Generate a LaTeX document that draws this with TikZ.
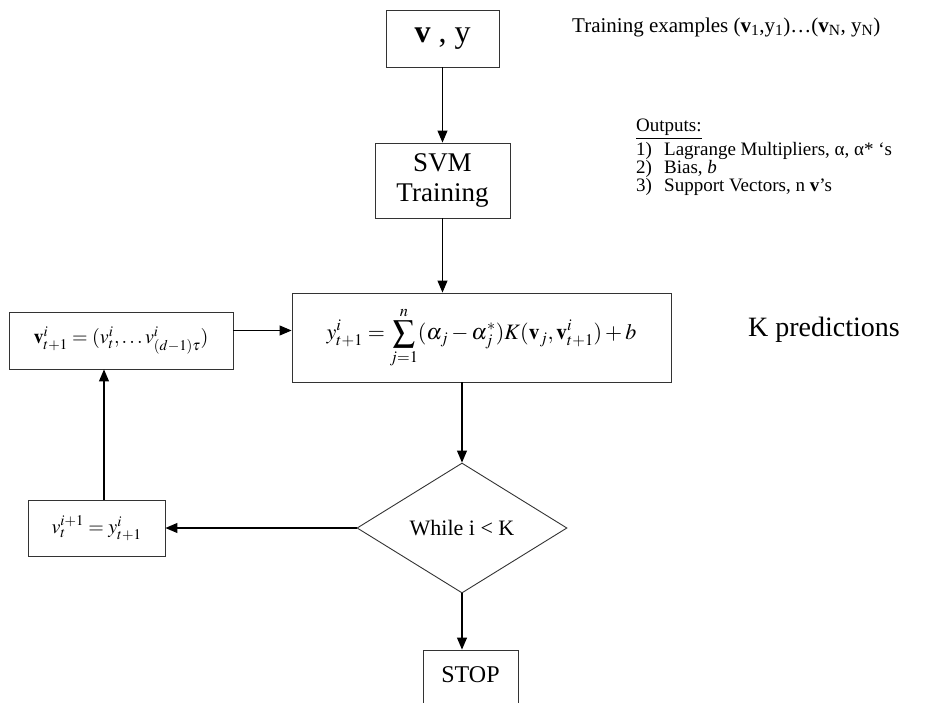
\documentclass[tikz,border=0pt]{standalone}
\usepackage{mathptmx}
\usepackage{fontspec}
\setmainfont{Liberation Serif}
\usetikzlibrary{positioning,arrows.meta,shapes.geometric,calc}

\tikzset{
  blk/.style={draw=black!80, line width=0.9pt, inner sep=0pt, align=center},
  dec/.style={blk, diamond},
  flow/.style={-{Triangle[length=12pt,width=10pt]}, line width=1.1pt},
  note/.style={inner sep=0pt, align=left},
  item/.style={note, anchor=west, font=\fontsize{19}{19}\selectfont},
}
\newcommand{\itemno}[1]{\makebox[28pt][l]{#1}}

\begin{document}
\begin{tikzpicture}[x=1pt, y=-1pt]
  \useasboundingbox (0,0) rectangle (937,702);
  \clip (0,0) rectangle (937,702);
  % boxes of the flow
  \node[blk, minimum width=113pt, minimum height=57pt, font=\fontsize{32}{32}\selectfont] (inp) at (442.5,38.5) {\textbf{v} , y};
  \node[blk, minimum width=135pt, minimum height=75pt, font=\fontsize{27}{30}\selectfont] (svm) at (442.5,180.5) {SVM\\Training};
  \node[blk, minimum width=379pt, minimum height=89pt, font=\fontsize{22}{22}\selectfont] (pred) at (481.5,337.5)
    {$\displaystyle y^{i}_{t+1} = \sum_{j=1}^{n}(\alpha_{j}-\alpha^{*}_{j})K(\mathbf{v}_{j},\mathbf{v}^{i}_{t+1})+b$};
  \node[blk, minimum width=224pt, minimum height=57pt, font=\fontsize{20}{20}\selectfont] (upd) at (121,340.5)
    {$\mathbf{v}^{i}_{t+1}=(v^{i}_{t},\ldots v^{i}_{(d-1)\tau})$};
  \node[dec, minimum width=210pt, minimum height=130pt, font=\fontsize{22}{22}\selectfont] (loop) at (462,528) {While i < K};
  \node[blk, minimum width=137pt, minimum height=56pt, font=\fontsize{20}{20}\selectfont] (shift) at (96.5,528)
    {$v^{i+1}_{t}=y^{i}_{t+1}$};
  \node[blk, minimum width=95pt, minimum height=80pt, text depth=30pt, font=\fontsize{24}{24}\selectfont] (stop) at (470.5,690) {STOP};

  % side notes
  \node[note, anchor=west, font=\fontsize{21}{21}\selectfont] (train) at (572,27)
    {Training examples (\textbf{v}\textsubscript{1},y\textsubscript{1})…(\textbf{v}\textsubscript{N}, y\textsubscript{N})};
  \node[item] (outs) at (636,129) {\underline{Outputs:}};
  \node[item] (out1) at (636,151) {\itemno{1)}Lagrange Multipliers, α, α* ‘s};
  \node[item] (out2) at (636,169) {\itemno{2)}Bias, \textit{b}};
  \node[item] (out3) at (636,187) {\itemno{3)}Support Vectors, n \textbf{v}’s};
  \node[note, anchor=west, font=\fontsize{28}{28}\selectfont] (kpred) at (748,330) {K predictions};

  % connectors
  \draw[flow] (inp) -- (svm);
  \draw[flow] (svm.south) -- (svm.south |- pred.north);
  \draw[flow] ([yshift=10pt]upd.east) -- ([yshift=10pt]upd.east -| pred.west);
  \draw[flow] (pred.south -| loop.north) -- (loop.north);
  \draw[flow] (loop.west) -- (loop.west -| shift.east);
  \draw[flow] ([xshift=7.5pt]shift.north) -- ([xshift=7.5pt]shift.north |- upd.south);
  \draw[flow] (loop.south) -- (loop.south |- stop.north);
\end{tikzpicture}
\end{document}
